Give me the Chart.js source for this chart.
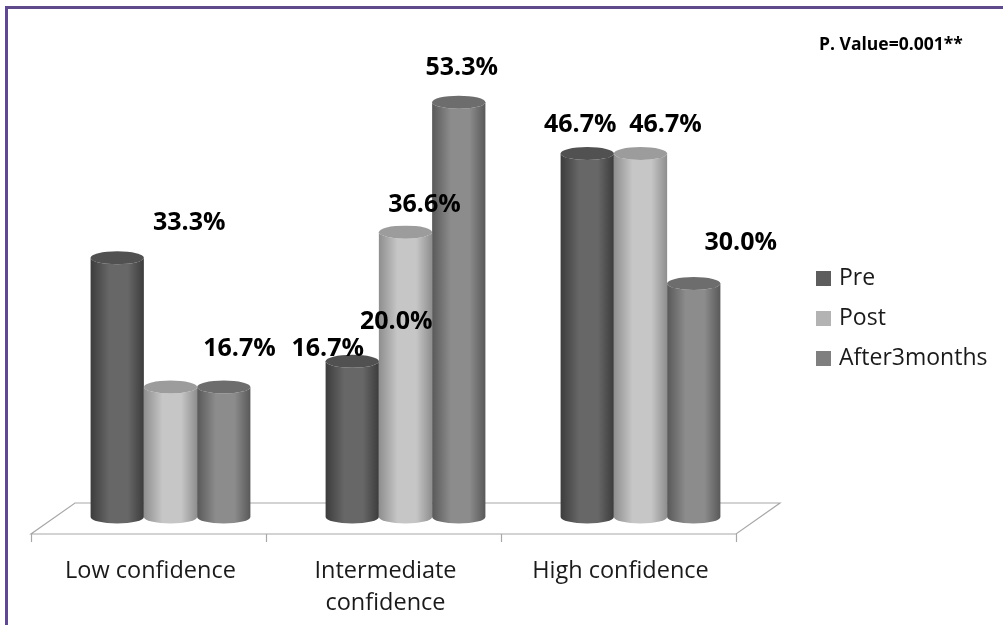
<!DOCTYPE html>
<html>
<head>
<meta charset="utf-8">
<script src="https://cdn.jsdelivr.net/npm/chart.js@4.4.1/dist/chart.umd.min.js"></script>
<style>
  html, body { margin: 0; padding: 0; background: #fff; }
  #wrap { width: 1003px; height: 625px; position: relative; }
</style>
</head>
<body>
<div id="wrap"><canvas id="chart"></canvas></div>
<script>
// data
const categories = [['Low confidence'], ['Intermediate', 'confidence'], ['High confidence']];
const seriesNames = ['Pre', 'Post', 'After3months'];
const pre = [33.3, 20.0, 46.7];
const post = [16.7, 36.6, 46.7];
const after3 = [16.7, 53.3, 30.0];
const pValueText = 'P. Value=0.001**';

// greys for each series: edge, highlight, top cap, legend swatch
const shades = [
  { edge: '#3c3c3c', hi: '#676767', top: '#515151', swatch: '#5d5d5d' },
  { edge: '#8e8e8e', hi: '#c6c6c6', top: '#9c9c9c', swatch: '#b3b3b3' },
  { edge: '#595959', hi: '#8c8c8c', top: '#6d6d6d', swatch: '#7f7f7f' }
];

const FONT = '"Open Sans", "DejaVu Sans", sans-serif';

function drawCylinder(ctx, x, top, base, w, ry, s) {
  const l = x - w / 2, r = x + w / 2;
  const g = ctx.createLinearGradient(l, 0, r, 0);
  g.addColorStop(0, s.edge);
  g.addColorStop(0.35, s.hi);
  g.addColorStop(0.7, s.hi);
  g.addColorStop(1, s.edge);
  ctx.beginPath();
  ctx.moveTo(l, top);
  ctx.lineTo(l, base);
  ctx.ellipse(x, base, w / 2, ry, 0, Math.PI, 0, true);
  ctx.lineTo(r, top);
  ctx.ellipse(x, top, w / 2, ry, 0, 0, Math.PI, false);
  ctx.closePath();
  ctx.fillStyle = g;
  ctx.fill();
  ctx.beginPath();
  ctx.ellipse(x, top, w / 2, ry, 0, 0, Math.PI * 2);
  ctx.fillStyle = s.top;
  ctx.fill();
}

const cylinderPlugin = {
  id: 'cylinders',
  beforeDatasetsDraw(chart) {
    const { ctx, chartArea: a } = chart;
    ctx.save();
    // purple frame
    ctx.strokeStyle = '#5f4b8b';
    ctx.lineWidth = 3;
    ctx.beginPath();
    ctx.moveTo(6.5, chart.height);
    ctx.lineTo(6.5, 7.5);
    ctx.lineTo(chart.width, 7.5);
    ctx.stroke();
    // floor
    const dx = 22, up = 14, down = 17;
    ctx.strokeStyle = '#a8a8a8';
    ctx.lineWidth = 1.2;
    ctx.beginPath();
    ctx.moveTo(a.left - dx, a.bottom + down);
    ctx.lineTo(a.right - dx, a.bottom + down);
    ctx.lineTo(a.right + dx, a.bottom - up);
    ctx.lineTo(a.left + dx, a.bottom - up);
    ctx.closePath();
    ctx.stroke();
    const step = (a.right - a.left) / categories.length;
    for (let i = 0; i <= categories.length; i++) {
      const tx = Math.round(a.left - dx + i * step) + 0.5;
      ctx.beginPath();
      ctx.moveTo(tx, a.bottom + down);
      ctx.lineTo(tx, a.bottom + down + 8);
      ctx.stroke();
    }
    ctx.restore();
  },
  afterDatasetsDraw(chart, args, opts) {
    const { ctx } = chart;
    ctx.save();
    const n = chart.data.labels.length;
    for (let i = 0; i < n; i++) {
      chart.data.datasets.forEach((ds, d) => {
        const el = chart.getDatasetMeta(d).data[i];
        drawCylinder(ctx, el.x, el.y, el.base, el.width, 6.5, shades[d]);
      });
    }
    ctx.fillStyle = '#000';
    ctx.font = 'bold 25px ' + FONT;
    ctx.textAlign = 'center';
    ctx.textBaseline = 'middle';
    chart.data.datasets.forEach((ds, d) => {
      const meta = chart.getDatasetMeta(d);
      ds.data.forEach((v, i) => {
        const el = meta.data[i];
        const [ox, oy] = opts.offsets[d][i];
        ctx.fillText(v.toFixed(1) + '%', el.x + ox, el.y + oy);
      });
    });
    ctx.restore();
  },
  afterDraw(chart) {
    const { ctx, chartArea: a, scales } = chart;
    ctx.save();
    // category labels under the floor front edge
    ctx.fillStyle = '#1a1a1a';
    ctx.font = '23.5px ' + FONT;
    ctx.textAlign = 'center';
    ctx.textBaseline = 'middle';
    chart.data.labels.forEach((lab, i) => {
      const x = scales.x.getPixelForValue(i) - 20;
      lab.forEach((line, k) => ctx.fillText(line, x, a.bottom + 54 + k * 32));
    });
    // legend
    ctx.textAlign = 'left';
    ctx.font = '23px ' + FONT;
    chart.data.datasets.forEach((ds, d) => {
      const y = 278 + d * 40;
      ctx.fillStyle = shades[d].swatch;
      ctx.fillRect(816, y - 7, 15, 15);
      ctx.fillStyle = '#1a1a1a';
      ctx.fillText(ds.label, 839, y);
    });
    // p value note
    ctx.font = 'bold 17.5px ' + FONT;
    ctx.fillStyle = '#000';
    ctx.fillText(pValueText, 819, 45);
    ctx.restore();
  }
};

const seriesValues = [pre, post, after3];

new Chart(document.getElementById('chart'), {
  type: 'bar',
  data: {
    labels: categories,
    datasets: seriesValues.map((vals, d) => ({
      label: seriesNames[d],
      data: vals,
      backgroundColor: 'rgba(0,0,0,0)',
      borderWidth: 0,
      categoryPercentage: 0.68,
      barPercentage: 1.0
    }))
  },
  options: {
    responsive: true,
    maintainAspectRatio: false,
    animation: false,
    layout: { padding: { left: 53, right: 245, top: 50, bottom: 108 } },
    scales: {
      x: { display: false },
      y: { display: false, min: 0, max: 60 }
    },
    plugins: {
      legend: { display: false },
      tooltip: { enabled: false },
      cylinders: {
        offsets: [
          [[72, -35], [44, -39], [-7, -29]],
          [[69, -38], [19, -27], [25, -29]],
          [[104, -38], [3, -34], [47, -41]]
        ]
      }
    }
  },
  plugins: [cylinderPlugin]
});
</script>
</body>
</html>
